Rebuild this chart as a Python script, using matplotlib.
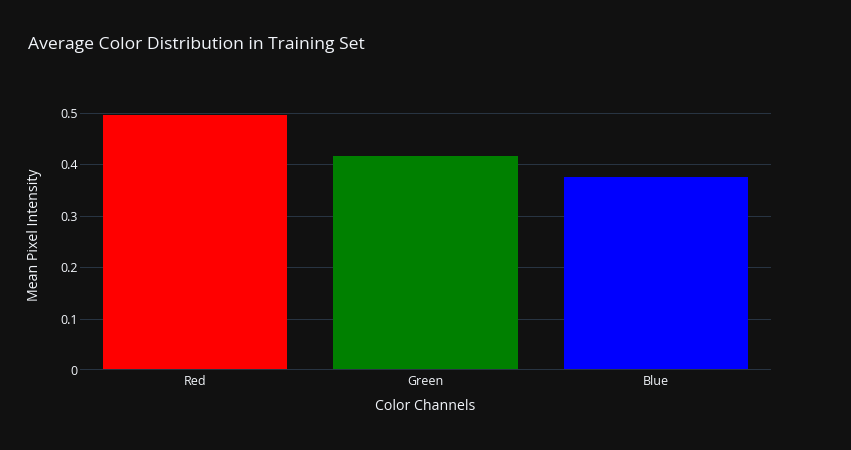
import matplotlib
matplotlib.use("Agg")
import matplotlib.pyplot as plt

# values
channels = ['Red', 'Green', 'Blue']
mean_intensity = [0.497, 0.417, 0.3755]
bar_colors = ['#ff0000', '#008000', '#0000ff']
y_ticks = [0, 0.1, 0.2, 0.3, 0.4, 0.5]
y_tick_labels = ['0', '0.1', '0.2', '0.3', '0.4', '0.5']

BG = '#111111'
GRID = '#283442'
TXT = '#f2f5fa'

plt.rcParams['font.family'] = ['Open Sans', 'DejaVu Sans']

W, H = 851, 450
fig = plt.figure(figsize=(W / 100, H / 100), dpi=100, facecolor=BG)
ax = fig.add_axes([80 / W, 80 / H, 691 / W, 270 / H], facecolor=BG)

ax.bar(channels, mean_intensity, width=0.8, color=bar_colors, zorder=3)
ax.set_xlim(-0.5, len(channels) - 0.5)
ax.set_ylim(0, 0.5253)

ax.set_yticks(y_ticks)
ax.set_yticklabels(y_tick_labels)
ax.yaxis.grid(True, color=GRID, linewidth=0.72, zorder=0)
ax.axhline(0, color=GRID, linewidth=1.44, zorder=4)

for s in ax.spines.values():
    s.set_visible(False)
ax.tick_params(axis='both', length=0, colors=TXT, labelsize=9)
ax.tick_params(axis='y', pad=1.5)
ax.tick_params(axis='x', pad=3.5)

fig.text(28 / W, 1 - 45 / H, 'Average Color Distribution in Training Set',
         color=TXT, fontsize=12.6, va='center', ha='left')
fig.text(425 / W, 1 - 406 / H, 'Color Channels', color=TXT, fontsize=10.2,
         ha='center', va='center')
fig.text(35 / W, 1 - 235 / H, 'Mean Pixel Intensity', color=TXT, fontsize=10.2,
         ha='center', va='center', rotation=90)

fig.savefig('out.png', dpi=100, facecolor=BG)
